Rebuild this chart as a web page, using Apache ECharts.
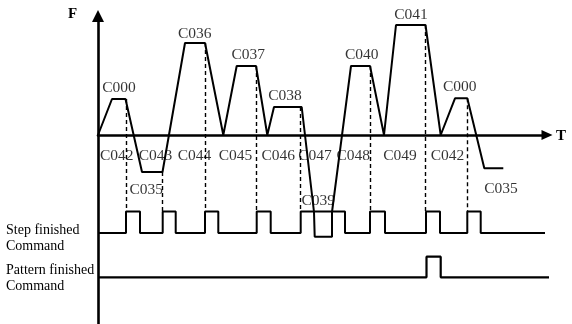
<!DOCTYPE html>
<html>
<head>
<meta charset="utf-8">
<script src="https://cdn.jsdelivr.net/npm/echarts@6/dist/echarts.min.js"></script>
<style>
  html, body { margin: 0; padding: 0; background: #fff; }
  #chart { width: 572px; height: 324px; }
</style>
</head>
<body>
<div id="chart"></div>
<script>
// 速度曲線 (T, F)
const profileT = [0, 14, 27.5, 44, 64.5, 87, 107, 125.3, 138.7, 158, 169.3, 176, 203.7, 216, 216.7, 234, 234, 253, 272, 286, 298, 327.5, 342.7, 357, 369.3, 386.3, 405.3];
const profileF = [0, 36, 36, -37, -37, 92, 92, 0, 69, 69, 0, 28, 28, -77, -101.7, -101.7, -77, 69, 69, 0, 110, 110, 0, 36.7, 36.7, -33.3, -33.3];

// Step finished 信號
const stepLow = -98;
const stepHigh = -76.5;
const stepRise = [28, 64.7, 107, 158.7, 202.7, 272, 328, 369.3];
const stepFall = [42, 77.7, 120.3, 172.7, 247, 287, 342, 382.7];
const stepEnd = 447;

// Pattern finished 信號
const patternLow = -142.3;
const patternHigh = -121.7;
const patternRise = [328.5];
const patternFall = [342.7];
const patternEnd = 452;

// 虛線
const dashT = [28, 64.7, 107, 158, 202, 272, 327.5, 369.3];
const dashTop = [36, -37, 92, 69, 28, 69, 110, 36.7];

// 標籤
const labelNames = ['C000', 'C036', 'C037', 'C038', 'C040', 'C041', 'C000',
  'C042', 'C043', 'C044', 'C045', 'C046', 'C047', 'C048', 'C049', 'C042',
  'C035', 'C039', 'C035'];
const labelT = [21, 96.7, 150.3, 187, 263.7, 313, 361.7,
  18.7, 57.5, 96.5, 137.5, 180.3, 217, 255.3, 302, 349.5,
  48.3, 220.3, 403];
const labelF = [47.5, 101, 80, 39, 80, 120.3, 48,
  -21, -21, -21, -21, -21, -21, -21, -21, -21,
  -55, -65.5, -53.7];

function pulses(rise, fall, low, high, end) {
  const pts = [[0, low]];
  rise.forEach((r, i) => {
    pts.push([r, low], [r, high], [fall[i], high], [fall[i], low]);
  });
  pts.push([end, low]);
  return pts;
}

const chart = echarts.init(document.getElementById('chart'));
const serif = '"Liberation Serif", "DejaVu Serif", serif';

const option = {
  animation: false,
  backgroundColor: '#fff',
  grid: { left: 98, right: 25, top: 16, bottom: 0 },
  xAxis: {
    type: 'value',
    min: 0,
    max: 449,
    axisLine: {
      onZero: true,
      symbol: ['none', 'triangle'],
      symbolSize: [10, 11],
      lineStyle: { color: '#000', width: 2.6 },
    },
    axisTick: { show: false },
    axisLabel: { show: false },
    splitLine: { show: false },
  },
  yAxis: {
    type: 'value',
    min: -189,
    max: 119,
    axisLine: {
      onZero: true,
      symbol: ['none', 'triangle'],
      symbolSize: [12, 12],
      lineStyle: { color: '#000', width: 2.6 },
    },
    axisTick: { show: false },
    axisLabel: { show: false },
    splitLine: { show: false },
  },
  graphic: [
    { type: 'text', left: 68, top: 7, style: { text: 'F', font: 'bold 15px ' + serif, fill: '#000' } },
    { type: 'text', left: 556, top: 129, style: { text: 'T', font: 'bold 15px ' + serif, fill: '#000' } },
    { type: 'text', left: 6, top: 222, style: { text: 'Step finished\nCommand', font: '14px ' + serif, lineHeight: 16.5, fill: '#000' } },
    { type: 'text', left: 6, top: 262, style: { text: 'Pattern finished\nCommand', font: '14px ' + serif, lineHeight: 16.5, fill: '#000' } },
  ],
  series: [
    {
      type: 'lines',
      coordinateSystem: 'cartesian2d',
      silent: true,
      lineStyle: { color: '#000', width: 1.4, type: [4, 3], opacity: 1 },
      data: dashT.map((t, i) => ({ coords: [[t, dashTop[i]], [t, stepHigh]] })),
    },
    {
      type: 'line',
      symbol: 'none',
      clip: false,
      lineStyle: { color: '#000', width: 2 },
      data: profileT.map((t, i) => [t, profileF[i]]),
    },
    {
      type: 'line',
      symbol: 'none',
      clip: false,
      lineStyle: { color: '#000', width: 2 },
      data: pulses(stepRise, stepFall, stepLow, stepHigh, stepEnd),
    },
    {
      type: 'line',
      symbol: 'none',
      clip: false,
      lineStyle: { color: '#000', width: 2.2 },
      data: pulses(patternRise, patternFall, patternLow, patternHigh, patternEnd),
    },
    {
      type: 'scatter',
      symbolSize: 0,
      clip: false,
      silent: true,
      label: {
        show: true,
        position: 'inside',
        formatter: '{b}',
        color: '#000',
        fontFamily: serif,
        fontSize: 15.5,
      },
      data: labelNames.map((n, i) => ({ name: n, value: [labelT[i], labelF[i]] })),
    },
  ],
};

chart.setOption(option);
</script>
</body>
</html>
